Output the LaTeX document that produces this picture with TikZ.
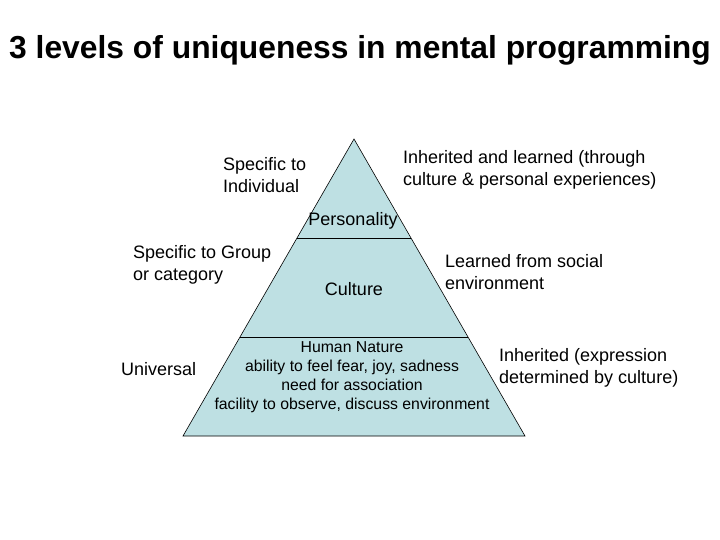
\documentclass[tikz,border=0pt]{standalone}
\usepackage{fontspec}
\setmainfont{Liberation Sans}
\definecolor{pyr}{HTML}{BEE0E3}
\begin{document}
\begin{tikzpicture}[x=1pt,y=-1pt,
  lbl/.style={font=\fontsize{18}{22.5}\selectfont, align=left, inner sep=0pt},
  ctr/.style={font=\fontsize{18}{22}\selectfont, align=center, inner sep=0pt},
  hn/.style={font=\fontsize{15.8}{19}\selectfont, align=center, inner sep=0pt}]
\useasboundingbox (0,0) rectangle (720,540);
\coordinate (apex) at (354,139);
\coordinate (bl) at (183,436);
\coordinate (br) at (525,436);
\coordinate (l1) at (297,238);
\coordinate (r1) at (411,238);
\coordinate (l2) at (240,337);
\coordinate (r2) at (468,337);
\draw[fill=pyr, line width=0.6pt] (apex) -- (br) -- (bl) -- cycle;
\draw[line width=0.6pt] (l1) -- (r1);
\draw[line width=0.6pt] (l2) -- (r2);
\node[font=\fontsize{31.8}{36}\selectfont\bfseries, inner sep=0pt] (title) at (360,50) {3 levels of uniqueness in mental programming};
\node[lbl, anchor=west] (indiv) at (223,175) {Specific to\\Individual};
\node[lbl, anchor=west] (inh) at (403,170) {Inherited and learned (through\\culture \& personal experiences)};
\node[ctr] (pers) at (353,221) {Personality};
\node[lbl, anchor=west] (grp) at (133,265) {Specific to Group\\or category};
\node[ctr] (cult) at (354,289) {Culture};
\node[lbl, anchor=west] (learn) at (445,272) {Learned from social\\environment};
\node[lbl, anchor=west] (univ) at (121,369) {Universal};
\node[lbl, anchor=west] (inh2) at (499,368) {Inherited (expression\\determined by culture)};
\node[hn] (hum) at (352,377) {Human Nature\\ability to feel fear, joy, sadness\\need for association\\facility to observe, discuss environment};
\end{tikzpicture}
\end{document}
